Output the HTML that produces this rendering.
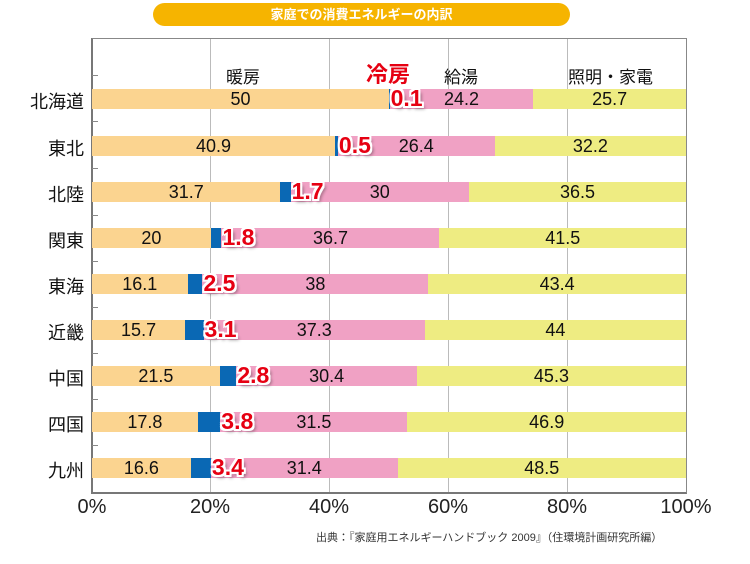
<!DOCTYPE html>
<html><head><meta charset="utf-8"><style>
body{margin:0;width:750px;height:564px;background:#fff;position:relative;overflow:hidden;font-family:"Liberation Sans","Noto Sans CJK JP",sans-serif;}
.a{position:absolute}
.pill{left:153px;top:3px;width:417px;height:23px;background:#f6b400;border-radius:12px;color:#fff;font-size:13px;font-weight:bold;text-align:center;line-height:23px}
.frame{left:91px;top:38px;width:593px;height:453px;border:1px solid #888;border-left:2px solid #777;border-bottom:2px solid #777;}
.grid{top:39px;width:1px;height:453px;background:#bbb}
.tick{left:92px;width:6px;height:1px;background:#888}
.row{height:20px}
.seg{position:absolute;top:0;height:20px;font-size:18px;line-height:21px;text-align:center;color:#111}
.h{background:#fbd490}.c{background:#0a68b4}.w{background:#f0a1c4}.l{background:#eeec82}
.cl{position:absolute;top:-4px;font-size:23px;font-weight:bold;color:#e60012;line-height:26px;text-shadow:-2px 0 #fff,2px 0 #fff,0 -2px #fff,0 2px #fff,-2px -2px #fff,2px 2px #fff,-2px 2px #fff,2px -2px #fff,3px 3px 3px rgba(0,0,0,.4)}
.lab{left:0;width:84px;text-align:right;font-size:18px;color:#111}
.xt{top:496px;font-size:20px;color:#222;width:80px;text-align:center}
.hd{top:63px;font-size:17px;color:#111}
</style></head><body>
<div class="a pill">家庭での消費エネルギーの内訳</div>
<div class="a frame"></div>
<div class="a grid" style="left:210px"></div>
<div class="a grid" style="left:329px"></div>
<div class="a grid" style="left:448px"></div>
<div class="a grid" style="left:567px"></div>
<div class="a tick" style="top:75px"></div>
<div class="a tick" style="top:121px"></div>
<div class="a tick" style="top:168px"></div>
<div class="a tick" style="top:215px"></div>
<div class="a tick" style="top:261px"></div>
<div class="a tick" style="top:307px"></div>
<div class="a tick" style="top:353px"></div>
<div class="a tick" style="top:399px"></div>
<div class="a tick" style="top:445px"></div>
<div class="a hd" style="left:226px">暖房</div>
<div class="a" style="left:366px;top:57px;font-size:22px;font-weight:bold;color:#e60012">冷房</div>
<div class="a hd" style="left:444px">給湯</div>
<div class="a hd" style="left:568px">照明・家電</div>
<div id="rows"></div>
<script>
var d=[["北海道",50,0.1,24.2,25.7,89],["東北",40.9,0.5,26.4,32.2,136],["北陸",31.7,1.7,30,36.5,182],["関東",20,1.8,36.7,41.5,228],["東海",16.1,2.5,38,43.4,274],["近畿",15.7,3.1,37.3,44,320],["中国",21.5,2.8,30.4,45.3,366],["四国",17.8,3.8,31.5,46.9,412],["九州",16.6,3.4,31.4,48.5,458]];
var s="",X=92,W=5.94;
d.forEach(function(r){var y=r[5];var t=r[1]+r[2]+r[3]+r[4];var k=W*100/t;
var x1=X+r[1]*k,x2=x1+r[2]*k,x3=x2+r[3]*k;
s+='<div class="a lab" style="top:'+(y-1)+'px">'+r[0]+'</div>';
s+='<div class="a row" style="left:0;top:'+y+'px;width:750px">';
s+='<div class="seg h" style="left:'+X+'px;width:'+(x1-X)+'px">'+r[1]+'</div>';
s+='<div class="seg c" style="left:'+x1+'px;width:'+Math.max(x2-x1,1)+'px"></div>';
s+='<div class="seg w" style="left:'+x2+'px;width:'+(x3-x2)+'px">'+r[3]+'</div>';
s+='<div class="seg l" style="left:'+x3+'px;width:'+(X+594-x3)+'px">'+r[4]+'</div>';
s+='<div class="cl" style="left:'+(x2+1)+'px">'+r[2]+'</div></div>';});
document.getElementById("rows").innerHTML=s;
</script>
<div class="a xt" style="left:52px">0%</div>
<div class="a xt" style="left:170px">20%</div>
<div class="a xt" style="left:289px">40%</div>
<div class="a xt" style="left:408px">60%</div>
<div class="a xt" style="left:527px">80%</div>
<div class="a xt" style="left:646px">100%</div>
<div class="a" style="left:316px;top:529px;font-size:11px;color:#333">出典：『家庭用エネルギーハンドブック 2009』（住環境計画研究所編）</div>
</body></html>
